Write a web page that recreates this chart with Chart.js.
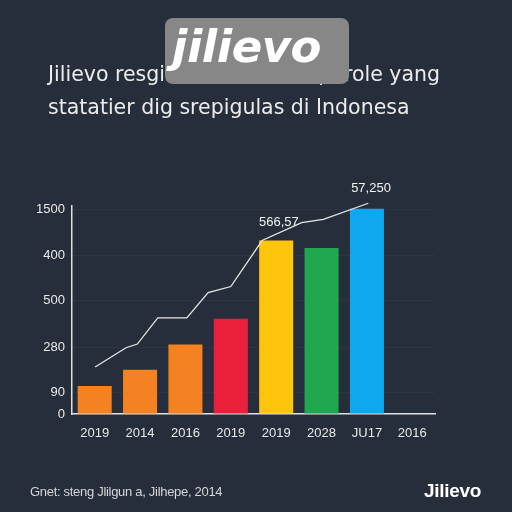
<!DOCTYPE html>
<html>
<head>
<meta charset="utf-8">
<script src="https://cdn.jsdelivr.net/npm/chart.js@4"></script>
<style>
  html, body { margin: 0; padding: 0; }
  body { width: 512px; height: 512px; background: #272e3b; position: relative; overflow: hidden; font-family: "Liberation Sans", sans-serif; }
  #chartBox { position: absolute; left: 0; top: 0; width: 512px; height: 512px; }
  .title { position: absolute; color: #ececec; font-family: "DejaVu Sans", sans-serif; font-size: 20.5px; white-space: nowrap; line-height: 22px; }
  #t1a { left: 48px; top: 63px; }
  #t1b { right: 72px; top: 63px; }
  #t2 { left: 48px; top: 96px; }
  #badge { position: absolute; left: 165px; top: 18px; width: 184px; height: 66px; background: #878787; border-radius: 8px; }
  #badge span { position: absolute; left: 7px; top: 2px; color: #fff; font-family: "DejaVu Sans", sans-serif; font-weight: bold; font-style: italic; font-size: 45px; letter-spacing: -0.5px; }
  #source { position: absolute; left: 30px; top: 484px; color: #d6d6d6; font-size: 13px; letter-spacing: -0.3px; }
  #brand { position: absolute; left: 424px; top: 480px; color: #fff; font-size: 19px; font-weight: bold; letter-spacing: -0.3px; }
</style>
</head>
<body>
<div id="chartBox"><canvas id="barChart" width="512" height="512"></canvas></div>
<div class="title" id="t1a">Jilievo resgistrasi untuk</div>
<div class="title" id="t1b">perole yang</div>
<div class="title" id="t2">statatier dig srepigulas di Indonesa</div>
<div id="badge"><span>jilievo</span></div>
<div id="source">Gnet: steng Jlilgun a, Jilhepe, 2014</div>
<div id="brand">Jilievo</div>
<script>
// categories and values
var years = ['2019', '2014', '2016', '2019', '2019', '2028', 'JU17', '2016'];
var barValues = [61, 96, 151, 207, 377, 361, 446, null];
var barColors = ['#f58220', '#f58220', '#f58220', '#ea1f3c', '#ffc40c', '#1fa84f', '#0ea8ee', '#0ea8ee'];

// y axis tick labels (as printed) and where they sit on the value scale
var tickValues = [0, 46, 145, 246, 345, 445];
var tickLabels = ['0', '90', '280', '500', '400', '1500'];

// trend line, x in category index
var lineX = [0.01, 0.69, 0.94, 1.39, 2.03, 2.50, 3.00, 3.69, 4.56, 5.04, 6.03];
var lineY = [102, 144, 152, 209, 209, 264, 277, 377, 416, 423, 458];

// value notes
var noteText = ['566,57', '57,250'];
var noteX = [4.06, 6.09];
var noteY = [417, 491];

var linePoints = lineX.map(function(x, i) { return { x: x, y: lineY[i] }; });

var notesPlugin = {
    id: 'notes',
    afterDatasetsDraw: function(chart) {
        var ctx = chart.ctx;
        var xs = chart.scales.xl, ys = chart.scales.y;
        ctx.save();
        ctx.font = '13px "Liberation Sans", sans-serif';
        ctx.fillStyle = '#f2f2f2';
        ctx.textAlign = 'center';
        ctx.textBaseline = 'middle';
        noteText.forEach(function(t, i) {
            ctx.fillText(t, xs.getPixelForValue(noteX[i]), ys.getPixelForValue(noteY[i]));
        });
        ctx.restore();
    }
};

Chart.defaults.font.family = '"Liberation Sans", sans-serif';
Chart.defaults.color = '#e8e8e8';

var ctx = document.getElementById('barChart').getContext('2d');
var chart = new Chart(ctx, {
    type: 'bar',
    data: {
        labels: years,
        datasets: [
            {
                type: 'line',
                data: linePoints,
                xAxisID: 'xl',
                borderColor: '#e6e6e6',
                borderWidth: 1.3,
                pointRadius: 0,
                tension: 0,
                clip: false,
                order: 0
            },
            {
                data: barValues,
                backgroundColor: barColors,
                barPercentage: 0.75,
                categoryPercentage: 1,
                grouped: false,
                order: 1
            }
        ]
    },
    options: {
        responsive: false,
        animation: false,
        layout: { padding: { top: 206, right: 77, left: 0, bottom: 0 } },
        plugins: { legend: { display: false }, tooltip: { enabled: false } },
        scales: {
            x: {
                grid: { display: false },
                border: { display: true, color: '#e0e0e0', width: 1.5 },
                ticks: { color: '#e8e8e8', font: { size: 13 }, padding: 4, maxRotation: 0 },
                afterFit: function(s) { s.height = 98; }
            },
            xl: {
                type: 'linear',
                display: false,
                offset: false,
                min: -0.5,
                max: 7.5
            },
            y: {
                min: 0,
                max: 452,
                grid: { color: 'rgba(255,255,255,0.035)', drawTicks: false },
                border: { display: true, color: '#e0e0e0', width: 1.5 },
                afterBuildTicks: function(s) {
                    s.ticks = tickValues.map(function(v) { return { value: v }; });
                },
                ticks: {
                    color: '#e8e8e8',
                    font: { size: 13 },
                    padding: 7,
                    callback: function(v, i) { return tickLabels[i]; }
                },
                afterFit: function(s) { s.width = 72; }
            }
        }
    },
    plugins: [notesPlugin]
});
</script>
</body>
</html>
